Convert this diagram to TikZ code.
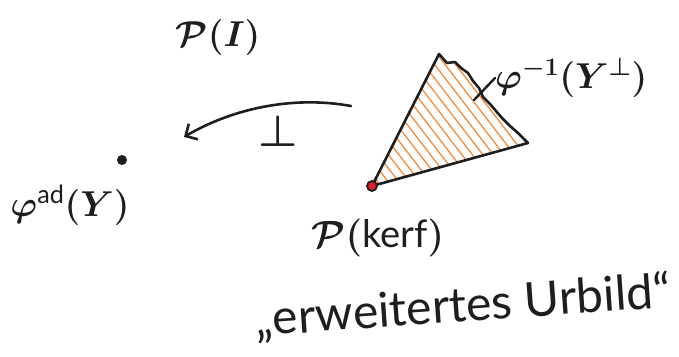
\RequirePackage{fix-cm}
\documentclass[tikz,border=0pt]{standalone}
\usepackage{amsmath}
\usepackage{fontspec}
\setmainfont{Lato}
\usetikzlibrary{arrows.meta}
\definecolor{ink}{RGB}{30,30,30}
\definecolor{hatch}{RGB}{245,140,60}
\definecolor{dotred}{RGB}{220,30,40}
\tikzset{
  pen/.style={draw=ink, line width=2.6pt, line cap=round, line join=round},
  lbl/.style={text=ink, inner sep=0pt, font=\fontsize{36}{40}\selectfont\boldmath},
}
\begin{document}
\begin{tikzpicture}[x=1pt,y=-1pt]
\useasboundingbox (0,0) rectangle (679,356);
% triangle vertices
\coordinate (A) at (439,54);
\coordinate (B) at (372,186);
\coordinate (C) at (528,143);
% hatching
\begin{scope}
  \clip (A) -- (447,63) -- (455,62) -- (461,68) -- (468,73) -- (473,81) -- (479,88) -- (483,97) -- (490,104) -- (496,111) -- (502,118) -- (510,126) -- (518,133) -- (C) -- (B) -- cycle;
  \foreach \i in {0,...,30} {
    \draw[hatch, line width=1.3pt] (240+\i*10.5,30) -- ++(200,260);
  }
\end{scope}
\draw[pen] (C) -- (B) -- (A) -- (447,63) -- (455,62) -- (461,68) -- (468,73) -- (473,81) -- (479,88) -- (483,97) -- (490,104) -- (496,111) -- (502,118) -- (510,126) -- (518,133) -- (C);
% red dot
\node[circle, fill=dotred, draw=ink, line width=1.8pt, minimum size=10pt, inner sep=0pt] (kdot) at (B) {};
% label of wavy edge
\node[lbl, anchor=west] (phiinv) at (495,78) {$\varphi^{-1}(Y^{\perp})$};
\coordinate (tk1) at (474,100);
\draw[pen, line width=2.4pt] (tk1) -- (phiinv.west);
% arrow
\coordinate (as) at (351,106);
\coordinate (ae) at (184,137);
\draw[pen, -{Straight Barb[length=9pt,width=18pt,line width=2.6pt]}] (as) .. controls (290,95) and (230,110) .. (ae);
\node[lbl, font=\fontsize{44}{46}\selectfont\boldmath] (perp) at (278,131) {$\perp$};
% P(I)
\node[lbl] (PI) at (218,37) {$\mathcal{P}(I)$};
% dot
\node[circle, fill=ink, minimum size=10pt, inner sep=0pt] (adot) at (122,160) {};
\node[lbl] (phiad) at (70,205) {$\varphi^{\textnormal{ad}}(Y)$};
% P(kerf)
\node[lbl, font=\fontsize{38}{42}\selectfont\boldmath] (Pkerf) at (378,238) {$\mathcal{P}(\textnormal{kerf})$};
% caption
\node[lbl, font=\fontsize{48}{50}\selectfont, rotate=4] (cap) at (463,307) {„erweitertes Urbild“};
\end{tikzpicture}
\end{document}
